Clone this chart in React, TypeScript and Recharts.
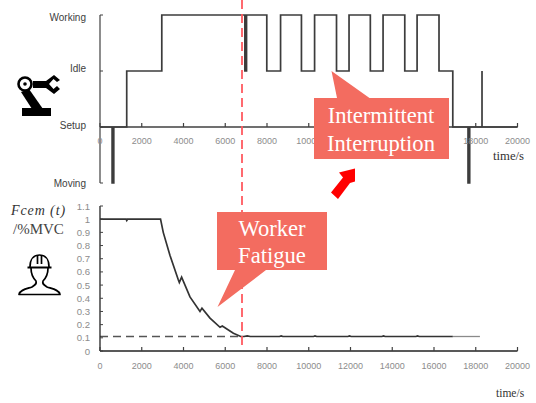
import React from 'react';
import { LineChart, Line, XAxis, YAxis, ReferenceLine } from 'recharts';

const timeTicks = [0, 2000, 4000, 6000, 8000, 10000, 12000, 14000, 16000, 18000, 20000];
const stateLabels: Record<number, string> = { 2: 'Working', 1: 'Idle', 0: 'Setup', [-1]: 'Moving' };
const stateTicks = [-1, 0, 1, 2];
const fatigueTicks = [0, 0.1, 0.2, 0.3, 0.4, 0.5, 0.6, 0.7, 0.8, 0.9, 1, 1.1];

// time/s, state (0 setup, 1 idle, 2 working, -1 moving)
const stateTime = [
  0, 580, 580, 660, 660, 1280, 1280, 2960, 2960, 6940, 6940, 7020, 7020, 7990, 7990, 8650, 8650,
  9650, 9650, 10280, 10280, 11330, 11330, 11930, 11930, 12950, 12950, 13560, 13560, 14600, 14600,
  15190, 15190, 16240, 16240, 16900, 16900, 17630, 17630, 17710, 17710, 18300, 18300, 18300, 20000,
];
const stateValue = [
  0, 0, -1, -1, 0, 0, 1, 1, 2, 2, 1, 1, 2, 2, 1, 1, 2, 2, 1, 1, 2, 2, 1, 1, 2, 2, 1, 1, 2, 2, 1, 1,
  2, 2, 1, 1, 0, 0, -1, -1, 0, 0, 1, 0, 0,
];

const fatigueTime = [
  0, 1250, 1280, 1320, 2900, 3030, 3350, 3750, 3800, 3910, 4310, 4790, 4885, 5270, 5750, 5860, 6390,
  6740, 6900, 7050, 7200, 8600, 8680, 8760, 10230, 10300, 10380, 11880, 11950, 12030, 13510, 13580,
  13660, 15140, 15210, 15290, 16900,
];
const fatigueValue = [
  1, 1, 0.99, 1, 1, 0.9, 0.726, 0.54, 0.52, 0.56, 0.41, 0.3, 0.325, 0.25, 0.18, 0.19, 0.135,
  0.11, 0.11, 0.115, 0.11, 0.11, 0.115, 0.11, 0.11, 0.115, 0.11, 0.11, 0.115, 0.11, 0.11, 0.115,
  0.11, 0.11, 0.115, 0.11, 0.11,
];
const tailTime = [16900, 18200];
const tailValue = [0.11, 0.11];
const fatigueLimitTime = [0, 6800];
const fatigueLimitValue = [0.11, 0.11];

const stateData = stateTime.map((t, i) => ({ t, v: stateValue[i] }));
const fatigueData = fatigueTime.map((t, i) => ({ t, v: fatigueValue[i] }));
const tailData = tailTime.map((t, i) => ({ t, v: tailValue[i] }));
const limitData = fatigueLimitTime.map((t, i) => ({ t, v: fatigueLimitValue[i] }));

const AXIS = '#404040';
const TICK_TEXT = '#8c8c8c';
const PINK = '#f36c60';
const SERIF = '"Liberation Serif", serif';
const SANS = '"Liberation Sans", sans-serif';

// the state labels are not quite level with their ticks in the original
const stateLabelNudge: Record<number, number> = { 2: 2.5, 1: -2.5, 0: -2, [-1]: 0 };

// x axis that sits on the setup level in the top panel, so ticks are shifted up
const TimeTick = ({ x, y, payload, lift, labelGap }: any) => (
  <g>
    <line x1={x} x2={x} y1={y - lift} y2={y - lift - 4} stroke={AXIS} strokeWidth={1.2} />
    <text x={x} y={y - lift + labelGap} textAnchor="middle" fontFamily={SANS} fontSize={9} fill={TICK_TEXT}>
      {payload.value}
    </text>
  </g>
);

const StateTick = ({ x, y, payload }: any) => (
  <g>
    <line x1={x} x2={x + 3} y1={y} y2={y} stroke={AXIS} strokeWidth={1} />
    <text x={x - 14} y={y + 3.5 + stateLabelNudge[payload.value]} textAnchor="end" fontFamily={SANS} fontSize={10} fill="#404040">
      {stateLabels[payload.value]}
    </text>
  </g>
);

const FatigueTick = ({ x, y, payload }: any) => (
  <g>
    <line x1={x} x2={x + 3} y1={y} y2={y} stroke={AXIS} strokeWidth={1} />
    <text x={x - 10} y={y + 3.5} textAnchor="end" fontFamily={SANS} fontSize={9.6} fill={TICK_TEXT}>
      {payload.value}
    </text>
  </g>
);

const RobotIcon = () => (
  <g fill="#000" stroke="none">
    <rect x={22} y={108} width={29} height={8} />
    <path d="M21 92 L29 89 L43 109 L32 109 Z" />
    <circle cx={25} cy={84} r={6.5} fill="none" stroke="#000" strokeWidth={2.6} />
    <circle cx={25} cy={84} r={1.8} />
    <rect x={33} y={81} width={14} height={7} />
    <path d="M46 81 L54 75 L60 80 L57 82 L53.5 79 L49 84 L53.5 89 L57 86 L60 89 L54 94 L46 88 Z" />
  </g>
);

const WorkerIcon = () => (
  <g fill="none" stroke="#000" strokeWidth={1.7} strokeLinejoin="round">
    <path d="M30 267 C30 259 34 255 39.5 255 C45 255 49 259 49 267" />
    <path d="M27.5 267.5 H51.5" strokeWidth={2} />
    <path d="M37.5 255 V264 M41.5 255 V264" />
    <path d="M31 268 C31 274 34 279 36 281 C37 284 35 285 32 287 C26 289 20 290 19 294.5 H60 C59 290 53 289 47 287 C44 285 42 284 43 281 C45 279 48 274 48 268" />
  </g>
);

const App = () => (
  <div style={{ position: 'absolute', left: 0, top: 0, width: 536, height: 403, background: '#fff', overflow: 'hidden' }}>
    {/* machine state panel */}
    <div style={{ position: 'absolute', left: 0, top: 0 }}>
      <LineChart width={536} height={200} data={stateData} margin={{ top: 15, right: 18.5, bottom: 0, left: 0 }}>
        <XAxis
          dataKey="t"
          type="number"
          domain={[0, 20000]}
          ticks={timeTicks}
          interval={0}
          height={17}
          axisLine={false}
          tickLine={false}
          tickSize={0}
          tickMargin={0}
          tick={<TimeTick lift={56} labelGap={17} />}
        />
        <YAxis
          dataKey="v"
          type="number"
          domain={[-1, 2]}
          ticks={stateTicks}
          interval={0}
          width={100}
          axisLine={{ stroke: AXIS, strokeWidth: 1.2 }}
          tickLine={false}
          tickSize={0}
          tickMargin={0}
          tick={<StateTick />}
        />
        <ReferenceLine y={0} stroke={AXIS} strokeWidth={1.7} />
        <Line dataKey="v" type="linear" stroke="#3c3c3c" strokeWidth={1.7} dot={false} isAnimationActive={false} />
      </LineChart>
    </div>

    {/* fatigue panel */}
    <div style={{ position: 'absolute', left: 0, top: 0 }}>
      <LineChart width={536} height={403} margin={{ top: 206, right: 18.5, bottom: 0, left: 0 }}>
        <XAxis
          dataKey="t"
          type="number"
          domain={[0, 20000]}
          ticks={timeTicks}
          interval={0}
          height={52}
          axisLine={{ stroke: '#222', strokeWidth: 1.3 }}
          tickLine={false}
          tickSize={0}
          tickMargin={0}
          tick={<TimeTick lift={0} labelGap={18} />}
        />
        <YAxis
          dataKey="v"
          type="number"
          domain={[0, 1.1]}
          ticks={fatigueTicks}
          interval={0}
          width={100}
          axisLine={{ stroke: '#222', strokeWidth: 1.3 }}
          tickLine={false}
          tickSize={0}
          tickMargin={0}
          tick={<FatigueTick />}
        />
        <Line data={limitData} dataKey="v" stroke="#555" strokeWidth={1.3} strokeDasharray="8 5" dot={false} isAnimationActive={false} />
        <Line data={tailData} dataKey="v" stroke="#8a8a8a" strokeWidth={1.3} dot={false} isAnimationActive={false} />
        <Line data={fatigueData} dataKey="v" type="linear" stroke="#333" strokeWidth={1.7} dot={false} isAnimationActive={false} />
      </LineChart>
    </div>

    {/* annotations on top of the plots */}
    <svg width={536} height={403} style={{ position: 'absolute', left: 0, top: 0 }}>
      <line x1={242} x2={242} y1={0} y2={347} stroke="#ff5a60" strokeWidth={1.8} strokeDasharray="9 5" />

      <path d="M314 98 H337 L331.5 71 L369.5 98 H449 V159 H314 Z" fill={PINK} />
      <text x={381} y={123} textAnchor="middle" fontFamily={SERIF} fontSize={22.6} fill="#fff">Intermittent</text>
      <text x={381} y={151} textAnchor="middle" fontFamily={SERIF} fontSize={22.6} fill="#fff">Interruption</text>

      <path d="M217 212 H327 V270 H266 L217.5 307 L235 270 H217 Z" fill={PINK} />
      <text x={272} y={236} textAnchor="middle" fontFamily={SERIF} fontSize={22.6} fill="#fff">Worker</text>
      <text x={272} y={263} textAnchor="middle" fontFamily={SERIF} fontSize={22.6} fill="#fff">Fatigue</text>

      <path d="M355 168.5 L339 172.5 L343 177.5 L331 192.5 L338 199 L350 183 L355 181.5 Z" fill="#ff0000" />

      <text x={493} y={160} fontFamily={SERIF} fontSize={12.7} fill="#333">time/s</text>
      <text x={496} y={397} fontFamily={SERIF} fontSize={11.5} fill="#333">time/s</text>

      <text x={11} y={215} fontFamily={SERIF} fontStyle="italic" fontSize={14} letterSpacing={0.9} fill="#333">Fcem (t)</text>
      <text x={13} y={234} fontFamily={SERIF} fontSize={15} fill="#444">/%MVC</text>

      <RobotIcon />
      <WorkerIcon />
    </svg>
  </div>
);

export default App;
